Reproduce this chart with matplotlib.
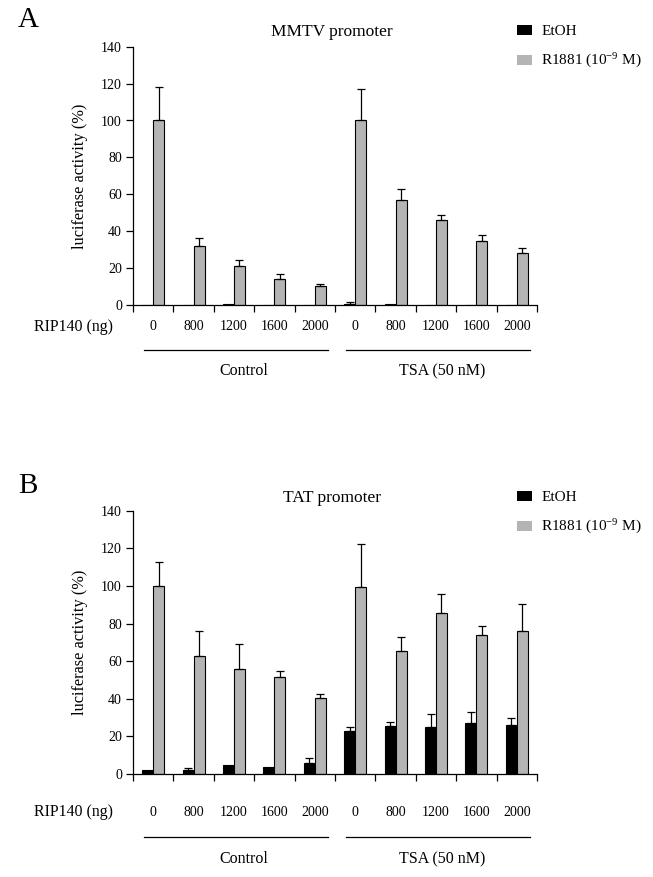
import numpy as np
import matplotlib.pyplot as plt
from matplotlib.patches import Patch
from matplotlib.transforms import blended_transform_factory

plt.rcParams['font.family'] = 'Liberation Serif'
plt.rcParams['mathtext.fontset'] = 'custom'
plt.rcParams['mathtext.rm'] = 'Liberation Serif'
plt.rcParams['mathtext.it'] = 'Liberation Serif:italic'

# -----------------------------
# Daten
# -----------------------------
rip140 = ['0', '800', '1200', '1600', '2000', '0', '800', '1200', '1600', '2000']
groups = ['Control', 'TSA (50 nM)']
yticks = [0, 20, 40, 60, 80, 100, 120, 140]

mmtv_etoh = [0.2, 0.2, 0.5, 0.2, 0.2, 0.5, 0.5, 0.2, 0.2, 0.2]
mmtv_etoh_err = [0, 0, 0, 0, 0, 1.0, 0, 0, 0, 0]
mmtv_r1881 = [100, 32, 21, 14, 10.5, 100, 57, 46, 34.5, 28]
mmtv_r1881_err = [18, 4.5, 3.5, 3, 1, 17, 6, 3, 3.5, 3]

tat_etoh = [2, 2.2, 4.8, 3.9, 6, 23, 25.5, 25.2, 27, 26]
tat_etoh_err = [0, 0.8, 0, 0, 2.7, 1.8, 2.1, 6.5, 5.8, 3.6]
tat_r1881 = [100, 62.7, 55.6, 51.7, 40.2, 99.6, 65.2, 85.4, 74.1, 76]
tat_r1881_err = [12.5, 13.1, 13.5, 3.1, 2.2, 22.8, 7.8, 10.5, 4.8, 14.4]

W, H = 653, 877
GREY = '#b4b4b4'


def fy(py):
    return 1 - py / H


fig = plt.figure(figsize=(W / 100, H / 100), dpi=100)


def draw_panel(rect, etoh, etoh_err, r1881, r1881_err, title, letter,
               top_px, lab_px, line_px, grp_px):
    ax = fig.add_axes(rect)
    x = np.arange(len(etoh)) + 0.5
    bw = 0.27

    ax.bar(x - bw / 2, etoh, bw, color='black', edgecolor='black', lw=0.8)
    ax.bar(x + bw / 2, r1881, bw, color=GREY, edgecolor='black', lw=0.8)

    # Fehlerbalken nur nach oben
    for xs, vals, errs in [(x - bw / 2, etoh, etoh_err), (x + bw / 2, r1881, r1881_err)]:
        errs = np.array(errs)
        m = errs > 0
        ax.errorbar(xs[m], np.array(vals)[m], yerr=[np.zeros(m.sum()), errs[m]],
                    fmt='none', ecolor='black', elinewidth=0.9, capsize=3, capthick=0.9)

    ax.set_xlim(0, 10)
    ax.set_ylim(0, 140)
    ax.set_yticks(yticks)
    ax.set_xticks(np.arange(11))
    ax.set_xticklabels([])
    ax.tick_params(axis='y', labelsize=10, length=5, width=0.9, pad=3)
    ax.tick_params(axis='x', length=5, width=0.9)
    for s in ['top', 'right']:
        ax.spines[s].set_visible(False)
    for s in ['left', 'bottom']:
        ax.spines[s].set_linewidth(0.9)

    ax.set_ylabel('luciferase activity (%)', fontsize=11.8)
    ax.yaxis.set_label_coords(-0.112, 0.5)

    # Beschriftung unter der Achse
    tr = blended_transform_factory(ax.transData, fig.transFigure)
    fig.text(113 / W, fy(lab_px), 'RIP140 (ng)', ha='right', va='center', fontsize=11.4)
    for xi, lab in zip(x, rip140):
        ax.text(xi, fy(lab_px), lab, transform=tr, ha='center', va='center', fontsize=10)
    for (x0, x1, xt), name in zip([(0.27, 4.83, 2.75), (5.27, 9.83, 7.65)], groups):
        ax.plot([x0, x1], [fy(line_px)] * 2, transform=tr, color='black', lw=0.9, clip_on=False)
        ax.text(xt, fy(grp_px), name, transform=tr, ha='center', va='center', fontsize=11.5)

    fig.text(332 / W, fy(top_px + 2), title, ha='center', va='center', fontsize=12.5)
    fig.text(18 / W, fy(top_px - 10), letter, ha='left', va='center', fontsize=21)

    handles = [Patch(facecolor='black', edgecolor='none'),
               Patch(facecolor=GREY, edgecolor='none')]
    ax.legend(handles, ['EtOH', 'R1881 (10$^{-9}$ M)'], loc='upper left',
              bbox_to_anchor=(517 / W, fy(top_px - 5)), bbox_transform=fig.transFigure,
              frameon=False, fontsize=11, handlelength=1.0, handleheight=0.6,
              handletextpad=0.6, labelspacing=0.9, borderpad=0, borderaxespad=0)
    return ax


left = 133 / W
width = 404 / W

draw_panel([left, fy(305), width, (305 - 46.7) / H],
           mmtv_etoh, mmtv_etoh_err, mmtv_r1881, mmtv_r1881_err,
           'MMTV promoter', 'A', 30, 327, 350, 371)

draw_panel([left, fy(774), width, (774 - 510.7) / H],
           tat_etoh, tat_etoh_err, tat_r1881, tat_r1881_err,
           'TAT promoter', 'B', 496, 812, 837, 859)

fig.savefig('out.png', dpi=100)
